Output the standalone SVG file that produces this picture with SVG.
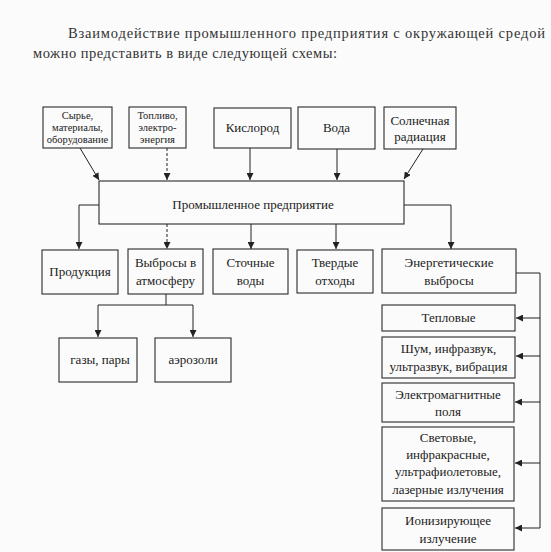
<svg xmlns="http://www.w3.org/2000/svg" width="551" height="552" viewBox="0 0 551 552" font-family="'Liberation Serif', 'DejaVu Serif', serif">
<defs>
<marker id="ah" viewBox="0 0 10 10" refX="10" refY="5" markerWidth="7" markerHeight="7" orient="auto" markerUnits="userSpaceOnUse">
<path d="M0,0 L10,5 L0,10 z" fill="#222"/>
</marker>
<style>
.box{fill:none;stroke:#2a2a2a;stroke-width:1.1}
.t{fill:#222;text-anchor:middle}
.s{font-size:10.5px}
.m{font-size:13px}
.h{fill:#333;font-size:14.5px}
.c{fill:none;stroke:#222;stroke-width:1}
.a{marker-end:url(#ah)}
.d{stroke-dasharray:3 2}
</style>
</defs>
<rect width="551" height="552" fill="#fbfbfb"/>
<text class="h" x="68" y="38" textLength="477" lengthAdjust="spacing">Взаимодействие промышленного предприятия с окружающей средой</text>
<text class="h" x="33" y="58" textLength="304" lengthAdjust="spacing">можно представить в виде следующей схемы:</text>

<g id="connectors">
<line class="c a" x1="80" y1="148" x2="99" y2="180"/>
<line class="c a d" x1="167" y1="148" x2="167" y2="180"/>
<line class="c a" x1="250" y1="148" x2="250" y2="180"/>
<line class="c a" x1="337" y1="149" x2="337" y2="180"/>
<line class="c a" x1="423" y1="149" x2="404" y2="179"/>
<polyline class="c a" points="99,205 79,205 79,249"/>
<line class="c a d" x1="167" y1="224" x2="167" y2="249"/>
<line class="c a" x1="251" y1="224" x2="251" y2="249"/>
<line class="c a" x1="336" y1="224" x2="336" y2="249"/>
<polyline class="c a" points="404,205 451,205 451,249"/>
<line class="c" x1="166" y1="294" x2="166" y2="305"/>
<polyline class="c a" points="166,305 98,305 98,337"/>
<polyline class="c a" points="166,305 193,305 193,337"/>
<polyline class="c" points="516,273 540,273 540,528"/>
<line class="c a" x1="540" y1="318" x2="516" y2="318"/>
<line class="c a" x1="540" y1="356" x2="516" y2="356"/>
<line class="c a" x1="540" y1="402" x2="515" y2="402"/>
<line class="c a" x1="540" y1="463" x2="515" y2="463"/>
<line class="c a" x1="540" y1="528" x2="515" y2="528"/>
</g>

<g id="n-syrye"><rect class="box" x="43" y="107" width="69" height="41"/>
<text class="t s" x="77.5" y="119">Сырье,</text><text class="t s" x="77.5" y="131">материалы,</text><text class="t s" x="77.5" y="143">оборудование</text></g>
<g id="n-toplivo"><rect class="box" x="129" y="107" width="57" height="41"/>
<text class="t s" x="157.5" y="119">Топливо,</text><text class="t s" x="157.5" y="131">электро-</text><text class="t s" x="157.5" y="143">энергия</text></g>
<g id="n-kislorod"><rect class="box" x="214" y="108" width="77" height="40"/>
<text class="t m" x="252.5" y="132">Кислород</text></g>
<g id="n-voda"><rect class="box" x="298" y="107" width="77" height="42"/>
<text class="t m" x="336.5" y="132">Вода</text></g>
<g id="n-solar"><rect class="box" x="384" y="107" width="72" height="42"/>
<text class="t m" x="420" y="125">Солнечная</text><text class="t m" x="420" y="141">радиация</text></g>

<g id="n-main"><rect class="box" x="99" y="181" width="305" height="43"/>
<text class="t m" x="253" y="209">Промышленное предприятие</text></g>

<g id="n-produkciya"><rect class="box" x="42" y="250" width="76" height="44"/>
<text class="t m" x="80" y="276">Продукция</text></g>
<g id="n-vybrosy"><rect class="box" x="128" y="249" width="75" height="45"/>
<text class="t m" x="165.5" y="267">Выбросы в</text><text class="t m" x="165.5" y="285">атмосферу</text></g>
<g id="n-stochnye"><rect class="box" x="213" y="249" width="75" height="45"/>
<text class="t m" x="250.5" y="267">Сточные</text><text class="t m" x="250.5" y="285">воды</text></g>
<g id="n-tverdye"><rect class="box" x="297" y="250" width="76" height="43"/>
<text class="t m" x="335" y="267">Твердые</text><text class="t m" x="335" y="285">отходы</text></g>
<g id="n-energ"><rect class="box" x="382" y="249" width="134" height="44"/>
<text class="t m" x="449" y="267">Энергетические</text><text class="t m" x="449" y="285">выбросы</text></g>

<g id="n-gazy"><rect class="box" x="59" y="338" width="78" height="44"/>
<text class="t m" x="100" y="364">газы, пары</text></g>
<g id="n-aerozoli"><rect class="box" x="155" y="338" width="76" height="44"/>
<text class="t m" x="193" y="364">аэрозоли</text></g>

<g id="n-teplovye"><rect class="box" x="382" y="305" width="133" height="26"/>
<text class="t m" x="448.5" y="322">Тепловые</text></g>
<g id="n-shum"><rect class="box" x="382" y="337" width="133" height="41"/>
<text class="t m" x="448.5" y="353">Шум, инфразвук,</text><text class="t m" x="448.5" y="371">ультразвук, вибрация</text></g>
<g id="n-elmag"><rect class="box" x="382" y="383" width="132" height="39"/>
<text class="t m" x="448" y="399">Электромагнитные</text><text class="t m" x="448" y="416">поля</text></g>
<g id="n-svet"><rect class="box" x="382" y="427" width="132" height="74"/>
<text class="t m" x="448" y="442">Световые,</text><text class="t m" x="448" y="459">инфракрасные,</text><text class="t m" x="448" y="476">ультрафиолетовые,</text><text class="t m" x="448" y="494">лазерные излучения</text></g>
<g id="n-ioniz"><rect class="box" x="382" y="508" width="132" height="42"/>
<text class="t m" x="448" y="525">Ионизирующее</text><text class="t m" x="448" y="543">излучение</text></g>
</svg>
